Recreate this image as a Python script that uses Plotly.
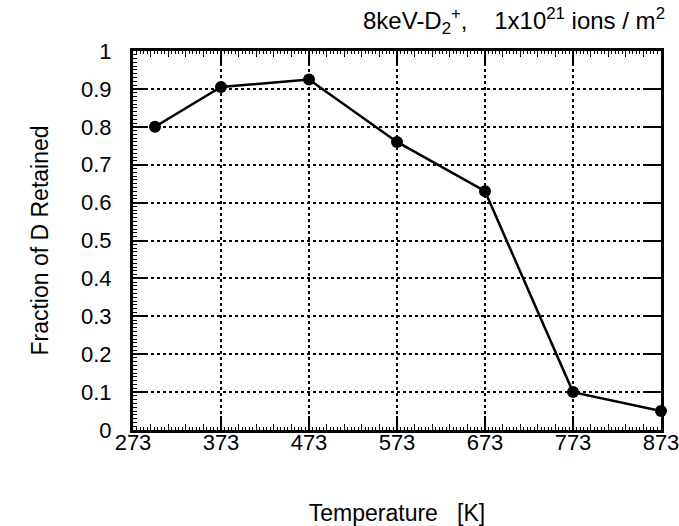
import plotly.graph_objects as go

# ---- data ----
temperature_K = [298, 373, 473, 573, 673, 773, 873]
fraction_retained = [0.80, 0.905, 0.925, 0.76, 0.63, 0.10, 0.05]
x_tick_vals = [273, 373, 473, 573, 673, 773, 873]
x_tick_text = ["273", "373", "473", "573", "673", "773", "873"]
y_tick_vals = [0, 0.1, 0.2, 0.3, 0.4, 0.5, 0.6, 0.7, 0.8, 0.9, 1]
y_tick_text = ["0", "0.1", "0.2", "0.3", "0.4", "0.5", "0.6", "0.7", "0.8", "0.9", "1"]

FONT = "Liberation Sans, Arial, Helvetica, sans-serif"

fig = go.Figure()
fig.add_trace(go.Scatter(
    x=temperature_K, y=fraction_retained, mode="lines+markers",
    line=dict(color="black", width=2.5),
    marker=dict(size=12, color="black"),
    cliponaxis=False, showlegend=False,
))
# helper trace so the overlay axes (fine ticks) get drawn
fig.add_trace(go.Scatter(
    x=[x_tick_vals[0]], y=[y_tick_vals[0]], xaxis="x2", yaxis="y2",
    mode="markers", marker=dict(opacity=0), showlegend=False, hoverinfo="skip",
))

fig.update_layout(
    width=679, height=526,
    margin=dict(l=133, r=18, t=51, b=96),
    paper_bgcolor="white", plot_bgcolor="white",
    font=dict(family=FONT, color="black", size=22),
    xaxis=dict(
        range=[273, 873], tickvals=x_tick_vals, ticktext=x_tick_text,
        ticks="inside", ticklen=14, tickwidth=1.5, tickcolor="black",
        showline=True, linewidth=2.5, linecolor="black", mirror="ticks",
        showgrid=True, gridcolor="black", griddash="dot", gridwidth=1.6,
        zeroline=False, automargin=False, ticklabeloverflow="allow",
        minor=dict(dtick=20, tick0=273, ticks="inside", ticklen=6,
                   tickwidth=1.2, tickcolor="black", showgrid=False),
        tickfont=dict(size=22), ticklabelstandoff=-9,
        title=dict(text="Temperature\u00a0\u00a0\u00a0[K]", font=dict(size=23), standoff=54),
    ),
    xaxis2=dict(
        overlaying="x", anchor="y", range=[273, 873], tick0=273, dtick=4,
        ticks="inside", ticklen=3, tickwidth=1, tickcolor="black",
        showticklabels=False, showgrid=False, zeroline=False, mirror="ticks",
        showline=False, automargin=False,
    ),
    yaxis=dict(
        range=[0, 1], tickvals=y_tick_vals, ticktext=y_tick_text,
        ticks="inside", ticklen=12, tickwidth=1.5, tickcolor="black",
        showline=True, linewidth=3, linecolor="black", mirror=True,
        showgrid=True, gridcolor="black", griddash="dot", gridwidth=1.6,
        zeroline=False, automargin=False, ticklabeloverflow="allow",
        minor=dict(dtick=0.01, tick0=0, ticks="inside", ticklen=4,
                   tickwidth=1, tickcolor="black", showgrid=False),
        tickfont=dict(size=22), ticklabelstandoff=14,
        title=dict(text="Fraction of D Retained", font=dict(size=23), standoff=26),
    ),
    yaxis2=dict(
        overlaying="y", anchor="x", side="right", range=[0, 1], dtick=0.1,
        ticks="inside", ticklen=15, tickwidth=1.5, tickcolor="black",
        showticklabels=False, showgrid=False, zeroline=False, showline=False,
        automargin=False,
    ),
    annotations=[dict(
        xref="paper", yref="paper", x=1.012, y=1.03, xanchor="right", yanchor="bottom",
        text="8keV-D<sub>2</sub><sup>+</sup>,\u00a0\u00a0\u00a0\u00a01x10<sup>21</sup> ions / m<sup>2</sup>",
        showarrow=False, font=dict(size=24),
    )],
)

fig.write_html("out.html")
